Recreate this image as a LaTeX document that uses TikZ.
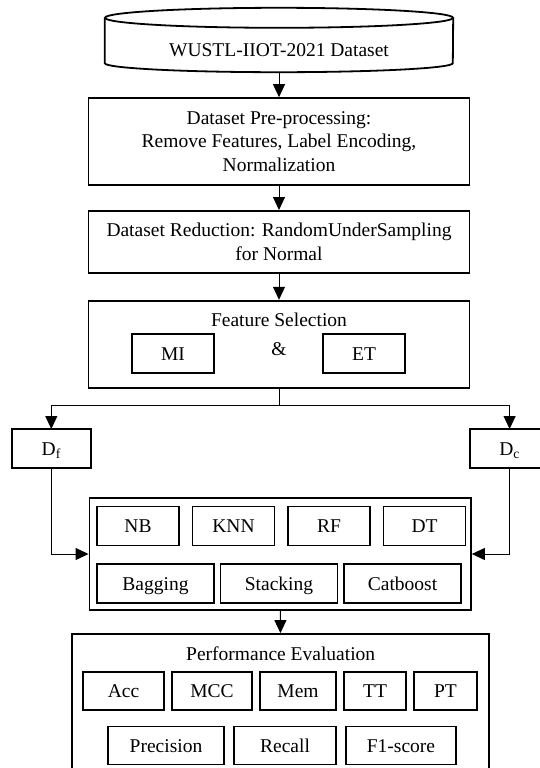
\documentclass[tikz,border=0pt]{standalone}
\usepackage{fontspec}
\setmainfont{Liberation Serif}
\usetikzlibrary{arrows.meta,positioning,calc}

\begin{document}
\begin{tikzpicture}[
    x=1pt, y=-1pt,
    node distance=25pt and 13.5pt,
    txt/.style={font=\fontsize{19.5}{23.5}\selectfont},
    comp/.style={
        rectangle, draw, line width=1.8pt, align=center,
        inner sep=0pt, txt
    },
    stage/.style={comp, minimum width=381pt},
    cell/.style={comp, outer sep=0pt, minimum width=#1, minimum height=39pt,
        text height=13pt, text depth=0pt},
    cell/.default=82pt,
    flow/.style={-{Triangle[length=13pt,width=12pt]}, line width=1pt},
    link/.style={line width=1pt},
]
\useasboundingbox (0,0) rectangle (540,768);
\clip (0,0) rectangle (540,768);

% Dataset cylinder
\node[txt, minimum width=348pt, minimum height=44pt, inner sep=0pt] (dataset) at (279,50) {WUSTL-IIOT-2021 Dataset};
\draw[line width=1.8pt] ([yshift=10pt]dataset.north) ellipse [x radius=174pt, y radius=10pt];
\draw[line width=1.8pt] ([yshift=10pt]dataset.north west) -- ([yshift=9pt]dataset.south west)
    arc[start angle=180, end angle=360, x radius=174pt, y radius=9pt] -- ([yshift=10pt]dataset.north east);

% Main stages
\node[stage, minimum height=87pt, below=25pt of dataset] (prep) {Dataset Pre-processing:\\Remove Features, Label Encoding,\\Normalization};
\node[stage, minimum height=62pt, below=24pt of prep] (reduce) {Dataset Reduction: RandomUnderSampling\\for Normal};
\node[stage, minimum height=87pt, below=26pt of reduce] (featsel) {};
\node[txt] (fstitle) at ($(featsel.north)+(0,20)$) {Feature Selection};
\node[cell] (mi) at (173,353.5) {MI};
\node[cell] (et) at (364,353.5) {ET};
\node[txt] (amp) at (279,349) {\&};

% Split into feature sets
\coordinate (split) at (279,405);
\node[cell=78.6pt] (df) at (51.3,448.5) {D\textsubscript{f}};
\node[cell=78.6pt] (dc) at (509.6,448.5) {D\textsubscript{c}};

% Models
\node[comp, minimum width=381.5pt, minimum height=112pt] (models) at (280.2,554) {};
\node[cell] (nb) at (138,526) {NB};
\node[cell, right=of nb] (knn) {KNN};
\node[cell, right=of knn] (rf) {RF};
\node[cell, right=of rf] (dt) {DT};
\node[cell=117pt] (bag) at (155.5,583.5) {Bagging};
\node[cell=117pt, right=6.5pt of bag] (stack) {Stacking};
\node[cell=117pt, right=6.5pt of stack] (cat) {Catboost};

% Performance evaluation
\node[comp, minimum width=417pt, minimum height=156pt] (perf) at (280.7,712) {};
\node[txt] (pftitle) at ($(perf.north)+(0,21)$) {Performance Evaluation};
\node[cell=81pt, minimum height=38pt] (acc) at (123.5,691) {Acc};
\node[cell=80pt, minimum height=38pt, right=8pt of acc] (mcc) {MCC};
\node[cell=76pt, minimum height=38pt, right=8pt of mcc] (mem) {Mem};
\node[cell=62pt, minimum height=38pt, right=8pt of mem] (tt) {TT};
\node[cell=63pt, minimum height=38pt, right=8pt of tt] (pt) {PT};
\node[cell=116pt, minimum height=38pt] (prec) at (166,745.5) {Precision};
\node[cell=102pt, minimum height=38pt, right=10pt of prec] (rec) {Recall};
\node[cell=110pt, minimum height=38pt, right=10pt of rec] (fone) {F1-score};

% Arrows
\draw[flow] (dataset.south) -- (prep.north);
\draw[flow] (prep) -- (reduce);
\draw[flow] (reduce) -- (featsel);
\draw[link] (featsel.south) -- (split);
\draw[flow] (split) -| (df.north);
\draw[flow] (split) -| (dc.north);
\draw[flow] (df.south) |- (models.west);
\draw[flow] (dc.south) |- (models.east);
\draw[flow] (models) -- (perf);
\end{tikzpicture}
\end{document}
